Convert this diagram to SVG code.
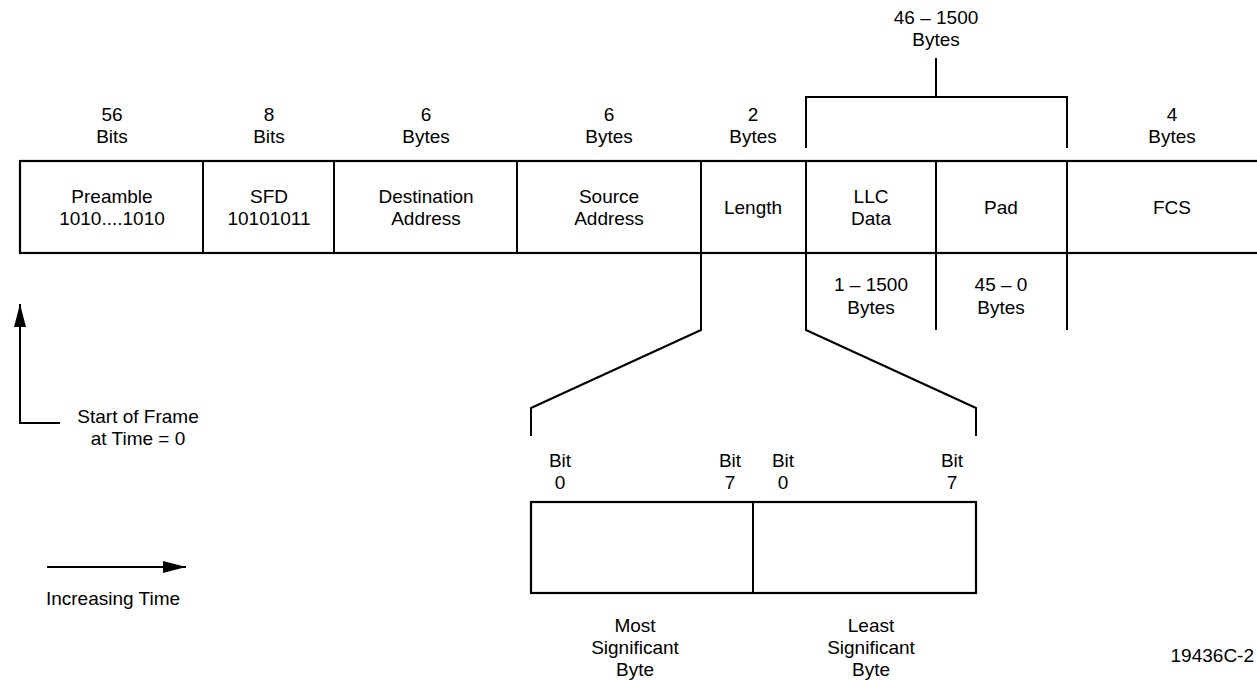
<svg xmlns="http://www.w3.org/2000/svg" width="1257" height="680" viewBox="0 0 1257 680">
<style>
text{font-family:"Liberation Sans",Arial,sans-serif;font-size:19px;fill:#000;text-anchor:middle}
.ln{fill:none;stroke:#000;stroke-width:2}
.bx{fill:#fff;stroke:#000;stroke-width:2.2}
</style>
<defs>
<marker id="ah" viewBox="0 0 10 10" refX="10" refY="5" markerWidth="23" markerHeight="12" markerUnits="userSpaceOnUse" orient="auto" preserveAspectRatio="none">
<path d="M0,0 L10,5 L0,10 Z" fill="#000"/>
</marker>
</defs>
<rect width="1257" height="680" fill="#fff"/>

<g id="frame">
<rect class="bx" x="20" y="161" width="1258" height="92"/>
</g>
<g id="preamble">
<text x="112" y="203">Preamble</text><text x="112" y="225">1010....1010</text>
<text x="112" y="121">56</text><text x="112" y="143">Bits</text>
</g>
<g id="sfd">
<line class="ln" x1="203" y1="161" x2="203" y2="253"/>
<text x="269" y="203">SFD</text><text x="269" y="225">10101011</text>
<text x="269" y="121">8</text><text x="269" y="143">Bits</text>
</g>
<g id="dest">
<line class="ln" x1="334" y1="161" x2="334" y2="253"/>
<text x="426" y="203">Destination</text><text x="426" y="225">Address</text>
<text x="426" y="121">6</text><text x="426" y="143">Bytes</text>
</g>
<g id="source">
<line class="ln" x1="517" y1="161" x2="517" y2="253"/>
<text x="609" y="203">Source</text><text x="609" y="225">Address</text>
<text x="609" y="121">6</text><text x="609" y="143">Bytes</text>
</g>
<g id="length">
<line class="ln" x1="701" y1="161" x2="701" y2="253"/>
<text x="753" y="214">Length</text>
<text x="753" y="121">2</text><text x="753" y="143">Bytes</text>
</g>
<g id="llc">
<line class="ln" x1="806" y1="161" x2="806" y2="253"/>
<text x="871" y="203">LLC</text><text x="871" y="225">Data</text>
<text x="871" y="291">1 – 1500</text><text x="871" y="314">Bytes</text>
</g>
<g id="pad">
<line class="ln" x1="936" y1="161" x2="936" y2="253"/>
<text x="1001" y="214">Pad</text>
<text x="1001" y="291">45 – 0</text><text x="1001" y="314">Bytes</text>
</g>
<g id="fcs">
<line class="ln" x1="1067" y1="161" x2="1067" y2="253"/>
<text x="1172" y="214">FCS</text>
<text x="1172" y="121">4</text><text x="1172" y="143">Bytes</text>
</g>
<g id="payload-size">
<text x="936" y="24">46 – 1500</text><text x="936" y="46">Bytes</text>
</g>
<g id="length-bytes">
<rect class="bx" x="531" y="502" width="445" height="91"/>
<line class="ln" x1="753" y1="502" x2="753" y2="593"/>
<text x="560" y="467">Bit</text><text x="560" y="489">0</text>
<text x="730" y="467">Bit</text><text x="730" y="489">7</text>
<text x="783" y="467">Bit</text><text x="783" y="489">0</text>
<text x="952" y="467">Bit</text><text x="952" y="489">7</text>
<text x="635" y="632">Most</text><text x="635" y="654">Significant</text><text x="635" y="676">Byte</text>
<text x="871" y="632">Least</text><text x="871" y="654">Significant</text><text x="871" y="676">Byte</text>
</g>
<g id="legend">
<text x="138" y="423">Start of Frame</text><text x="138" y="445">at Time = 0</text>
<text x="113" y="605">Increasing Time</text>
<text x="1254" y="662" style="text-anchor:end">19436C-2</text>
</g>
<g id="connectors">
<polyline class="ln" points="806,148 806,97 1067,97 1067,148"/>
<line class="ln" x1="936" y1="97" x2="936" y2="58"/>
<line class="ln" x1="936" y1="253" x2="936" y2="330"/>
<line class="ln" x1="1067" y1="253" x2="1067" y2="330"/>
<polyline class="ln" points="701,253 701,330 531,408 531,436"/>
<polyline class="ln" points="806,253 806,330 976,408 976,436"/>
<polyline class="ln" points="60,423 20,423 20,304" marker-end="url(#ah)"/>
<line class="ln" x1="47" y1="567" x2="186" y2="567" marker-end="url(#ah)"/>
</g>
</svg>
